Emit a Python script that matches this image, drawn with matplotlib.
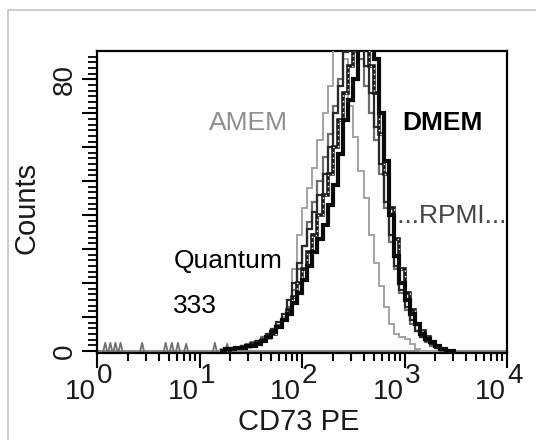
import matplotlib
matplotlib.use("Agg")
import matplotlib.pyplot as plt
import numpy as np
from matplotlib.ticker import FixedLocator, NullFormatter
from matplotlib.lines import Line2D

# ---------------- data ----------------
# histogram bins: log10 edges from 1.20 to 3.50, step 0.05
bin_log_start = 1.20
bin_log_step = 0.05
amem = [0.5, 1, 0.5, 1, 1.5, 1, 2, 2, 3, 3.5, 5, 7, 10, 15, 24, 34, 42, 48,
        54, 62, 70, 78, 90, 95, 86, 72, 63, 53, 45, 34, 26, 19, 13, 8, 5, 4,
        3.5, 2, 0.5, 0, 0, 0, 0, 0, 0, 0]
quantum = [0, 0.5, 1, 1, 1.5, 2, 2.5, 3, 4, 5, 6, 7.5, 9, 13, 18, 24, 31, 38,
           44, 50, 57, 64, 72, 80, 90, 93, 88, 86, 78, 70, 62, 52, 42, 32, 24, 17,
           12, 8, 6, 4, 2.5, 1.5, 1, 0, 0, 0]
c333 = [0, 0.5, 0.5, 1, 1.5, 1.5, 2, 3, 3.5, 5, 6.5, 8.5, 11, 15, 20, 26, 31, 36,
        41, 46, 52, 60, 70, 78, 88, 92, 89, 90, 84, 76, 66, 55, 44, 34, 25, 18,
        13, 9, 6, 4, 3, 2, 1, 0.5, 0, 0]
rpmi = [0, 0, 0.5, 1, 1, 1.5, 2, 2.5, 3, 4, 5, 7, 9, 12, 16, 20, 24, 29,
        34, 40, 46, 52, 60, 68, 76, 84, 92, 95, 90, 84, 76, 64, 52, 42, 33, 24,
        17, 12, 8, 6, 4, 2.5, 1.5, 0.5, 0, 0]
dmem = [0, 0.5, 0.5, 1, 1, 1.5, 1.5, 2, 3, 4, 5.5, 7, 9, 11, 14, 17, 21, 25,
        29, 33, 37, 43, 49, 58, 68, 74, 80, 92, 94, 90, 86, 70, 56, 40, 28, 20,
        15, 11, 8, 5, 3.5, 2.5, 1.5, 0.5, 0, 0]
# sparse low-channel events (log10 position, count)
noise_log = [0.08, 0.13, 0.18, 0.23, 0.44, 0.67, 0.73, 0.79, 0.87, 1.15, 1.27]
noise_counts = [2.4, 2.4, 2.4, 2.4, 2.4, 2.4, 2.4, 2.4, 2.1, 2.4, 2.1]

x_decades = [0, 1, 2, 3, 4]
y_labels = [0, 80]
annotations = ["AMEM", "DMEM", "....RPMI...", "Quantum", "333"]

# ---------------- figure ----------------
W, H = 536, 440
fig = plt.figure(figsize=(W / 100, H / 100), dpi=100)
fig.patch.set_facecolor("white")
ax = fig.add_axes([97 / W, (H - 353) / H, 410 / W, (353 - 50.7) / H])

tick_fam = ["Liberation Sans", "DejaVu Sans"]
txt_fam = ["Liberation Sans", "DejaVu Sans"]
dark = "#1a1a1a"

n = len(amem)
edges = 10 ** (bin_log_start + bin_log_step * np.arange(n + 1))

ax.axhline(0, color="#8c8c8c", lw=1.5, zorder=1)
for L, c in zip(noise_log, noise_counts):
    ax.plot([10 ** (L - 0.018), 10 ** L, 10 ** (L + 0.018)], [0, c, 0],
            color="#707070", lw=1.3, zorder=2)

ax.stairs(amem, edges, baseline=0, color="#a3a3a3", lw=1.4, zorder=3)
ax.stairs(quantum, edges, baseline=0, color="#6e6e6e", lw=1.6, zorder=3)
ax.stairs(c333, edges, baseline=0, color="#2a2a2a", lw=1.6, zorder=4)
ax.stairs(rpmi, edges, baseline=0, color="#1a1a1a", lw=2.6, zorder=4)
ax.stairs(rpmi, edges, baseline=0, color="white", lw=1.0,
          linestyle=(0, (1, 3)), zorder=4)
ax.stairs(dmem, edges, baseline=0, color="#0a0a0a", lw=3.0, zorder=5)

ax.set_xscale("log")
ax.set_xlim(1, 1e4)
ax.set_ylim(-0.6, 88.4)

for s in ax.spines.values():
    s.set_linewidth(1.6)
    s.set_color("black")

ax.xaxis.set_major_locator(FixedLocator([10 ** k for k in x_decades]))
ax.xaxis.set_minor_locator(FixedLocator([m * 10 ** k for k in range(4) for m in range(2, 10)]))
ax.xaxis.set_major_formatter(NullFormatter())
ax.xaxis.set_minor_formatter(NullFormatter())
ax.yaxis.set_major_locator(FixedLocator(list(range(0, 81, 10))))
ax.yaxis.set_minor_locator(FixedLocator(list(np.arange(0, 88, 10 / 6))))
ax.yaxis.set_major_formatter(NullFormatter())
ax.tick_params(axis="x", which="major", direction="out", length=11, width=1.5, color="black")
ax.tick_params(axis="x", which="minor", direction="out", length=6, width=1.5, color="black")
ax.tick_params(axis="y", which="major", direction="out", length=11, width=1.5, color="black")
ax.tick_params(axis="y", which="minor", direction="out", length=6.5, width=1.3, color="black")

tfs = 20
for k in x_decades:
    ax.annotate("10", xy=(10 ** k, 0), xycoords=("data", "axes fraction"),
                xytext=(-1, -26), textcoords="offset pixels", ha="right", va="top",
                fontsize=tfs, family=tick_fam, color=dark)
    ax.annotate(str(k), xy=(10 ** k, 0), xycoords=("data", "axes fraction"),
                xytext=(0, -10), textcoords="offset pixels", ha="left", va="top",
                fontsize=tfs, family=tick_fam, color=dark)
for v in y_labels:
    ax.annotate(str(v), xy=(0, v), xycoords=("axes fraction", "data"),
                xytext=(-32, 0), textcoords="offset pixels", ha="center", va="center",
                rotation=90, fontsize=tfs, family=tick_fam, color=dark)

ax.set_xlabel("CD73 PE", fontsize=21, family=tick_fam, color=dark, va="top")
ax.xaxis.set_label_coords((299 - 97) / 410, (353 - 408) / 302.3)
ax.set_ylabel("Counts", fontsize=21, family=tick_fam, color=dark, va="center")
ax.yaxis.set_label_coords((27 - 97) / 410, (353 - 208) / 302.3)

afs = 19
ax.text(12.5, 65.1, annotations[0], fontsize=afs, family=txt_fam, color="#8f8f8f", va="baseline")
ax.text(955, 65.1, annotations[1], fontsize=afs, family=txt_fam, color="black",
        fontweight="bold", va="baseline")
ax.text(729, 37.7, annotations[2], fontsize=afs, family=txt_fam, color="#444444", va="baseline")
ax.text(5.56, 24.4, annotations[3], fontsize=afs, family=txt_fam, color="black", va="baseline")
ax.text(5.56, 11.2, annotations[4], fontsize=afs, family=txt_fam, color="black", va="baseline")

# light outer frame
fig.add_artist(Line2D([7.5 / W, 7.5 / W, 1], [0, 1 - 10.5 / H, 1 - 10.5 / H],
                      transform=fig.transFigure, color="#c4c4c4", lw=1.2))

fig.savefig("out.png", dpi=100, facecolor="white")
